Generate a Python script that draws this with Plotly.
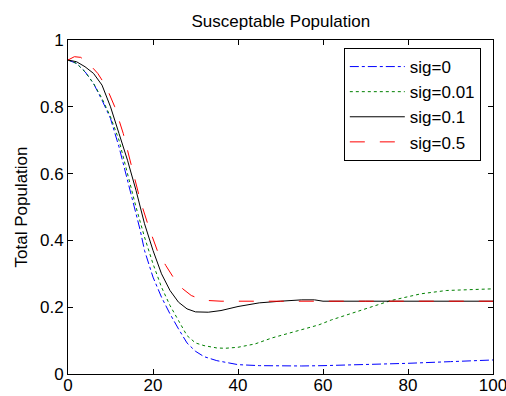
import plotly.graph_objects as go

# sig=0 (blue dash-dot)
x_s0 = [0, 2, 4, 6, 8, 10, 12, 14, 16, 17, 18, 20, 22, 24, 26, 28, 30, 32, 35, 38, 40, 45, 50, 55, 60, 70, 80, 90, 100]
y_s0 = [0.94, 0.93, 0.905, 0.87, 0.82, 0.765, 0.68, 0.58, 0.475, 0.43, 0.37, 0.29, 0.23, 0.18, 0.135, 0.093, 0.068, 0.052, 0.04, 0.033, 0.028, 0.025, 0.024, 0.024, 0.025, 0.028, 0.032, 0.037, 0.042]

# sig=0.01 (green dotted)
x_s001 = [0, 2, 4, 6, 8, 10, 12, 14, 16, 18, 20, 22, 24, 26, 28, 30, 32, 35, 37, 40, 44, 48, 54, 59, 62, 70, 76, 83, 89, 100]
y_s001 = [0.94, 0.93, 0.905, 0.87, 0.825, 0.77, 0.70, 0.60, 0.50, 0.41, 0.33, 0.26, 0.205, 0.16, 0.115, 0.093, 0.085, 0.078, 0.077, 0.08, 0.09, 0.108, 0.13, 0.147, 0.162, 0.195, 0.22, 0.24, 0.25, 0.255]

# sig=0.1 (black solid)
x_s01 = [0, 2, 4, 6, 8, 10, 12, 14, 16, 18, 20, 22, 24, 26, 28, 30, 33, 36, 40, 45, 50, 55, 58, 60, 70, 80, 90, 100]
y_s01 = [0.94, 0.935, 0.92, 0.90, 0.865, 0.80, 0.72, 0.64, 0.55, 0.45, 0.37, 0.30, 0.25, 0.215, 0.195, 0.186, 0.185, 0.19, 0.202, 0.213, 0.218, 0.222, 0.222, 0.218, 0.218, 0.218, 0.218, 0.218]

# sig=0.5 (red dashed)
x_s05 = [0, 1.5, 3, 5, 7, 9, 11, 13, 15, 17, 19, 21, 23, 25, 27, 29, 31, 33, 36, 40, 50, 60, 70, 80, 90, 100]
y_s05 = [0.94, 0.95, 0.948, 0.928, 0.90, 0.86, 0.80, 0.72, 0.62, 0.52, 0.44, 0.37, 0.325, 0.285, 0.255, 0.235, 0.225, 0.22, 0.218, 0.218, 0.218, 0.218, 0.218, 0.218, 0.218, 0.218]

x_ticks = [0, 20, 40, 60, 80, 100]
y_ticks = [0, 0.2, 0.4, 0.6, 0.8, 1]
y_tick_labels = ["0", "0.2", "0.4", "0.6", "0.8", "1"]

FONT = "Liberation Sans, Arial, sans-serif"
FS = 17

fig = go.Figure()
fig.add_trace(go.Scatter(x=x_s0, y=y_s0, mode="lines", name="sig=0",
                         line=dict(color="#0000FF", width=1, dash="dashdot")))
fig.add_trace(go.Scatter(x=x_s001, y=y_s001, mode="lines", name="sig=0.01",
                         line=dict(color="#008000", width=1, dash="dot")))
fig.add_trace(go.Scatter(x=x_s01, y=y_s01, mode="lines", name="sig=0.1",
                         line=dict(color="#000000", width=1, dash="solid")))
fig.add_trace(go.Scatter(x=x_s05, y=y_s05, mode="lines", name="sig=0.5",
                         line=dict(color="#FF0000", width=1, dash="longdash")))

fig.update_layout(
    template="none",
    width=506, height=396,
    margin=dict(l=68, r=13, t=40, b=22),
    paper_bgcolor="white", plot_bgcolor="white",
    font=dict(family=FONT, size=FS, color="black"),
    title=dict(text="Susceptable Population", x=0.555, xanchor="center",
               y=0.948, yanchor="middle", font=dict(size=FS, family=FONT)),
    showlegend=True,
    legend=dict(x=0.649, y=0.976, xanchor="left", yanchor="top",
                bgcolor="white", bordercolor="black", borderwidth=1,
                font=dict(size=FS, family=FONT), tracegroupgap=0,
                itemwidth=55),
)
fig.update_xaxes(range=[0, 100], tickvals=x_ticks, ticks="inside", ticklen=5,
                 tickcolor="black", showline=True, linecolor="black", linewidth=1,
                 mirror="ticks", showgrid=False, zeroline=False, automargin=False,
                 ticklabeloverflow="allow", ticklabelstandoff=-4,
                 tickfont=dict(size=FS, family=FONT))
fig.update_yaxes(range=[0, 1], tickvals=y_ticks, ticktext=y_tick_labels, ticks="inside",
                 ticklen=5, tickcolor="black", showline=True, linecolor="black",
                 linewidth=1, mirror="ticks", showgrid=False, zeroline=False,
                 automargin=False, ticklabeloverflow="allow",
                 tickfont=dict(size=FS, family=FONT),
                 title=dict(text="Total Population", standoff=8,
                            font=dict(size=FS, family=FONT)))

fig.write_html("out.html")
